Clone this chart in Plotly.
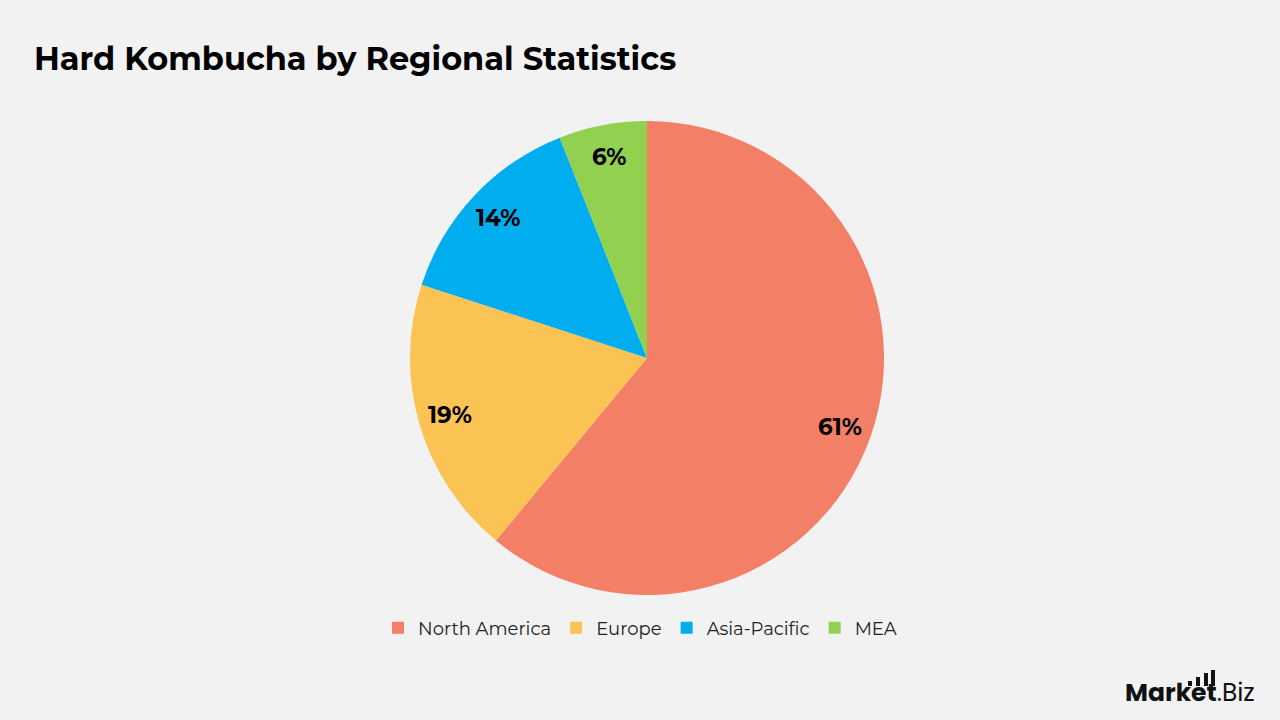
import math
import plotly.graph_objects as go

regions = ["North America", "Europe", "Asia-Pacific", "MEA"]
shares = [61, 19, 14, 6]
colors = ["#F37F67", "#FBC353", "#00AEEF", "#92D050"]

W, H = 1280, 720
cx, cy, r = 647, 358, 237
FONT = "Montserrat, Noto Sans, sans-serif"

fig = go.Figure(go.Pie(
    labels=regions,
    values=shares,
    marker=dict(colors=colors, line=dict(width=0)),
    sort=False,
    direction="clockwise",
    rotation=0,
    textinfo="none",
    domain=dict(x=[(cx - r) / W, (cx + r) / W], y=[1 - (cy + r) / H, 1 - (cy - r) / H]),
    hoverinfo="label+percent",
))

# percent labels placed at slice mid-angles
total = sum(shares)
acc = 0
for v in shares:
    mid = (acc + v / 2) / total * 2 * math.pi
    acc += v
    rr = 0.865 * r
    px = cx + rr * math.sin(mid)
    py = cy - rr * math.cos(mid)
    fig.add_annotation(x=px / W, y=1 - py / H, xref="paper", yref="paper",
                       showarrow=False, xanchor="center", yanchor="middle",
                       text=f"<b>{round(v / total * 100)}%</b>",
                       font=dict(family=FONT, size=23, color="#000000"))

fig.update_layout(
    width=W, height=H,
    paper_bgcolor="#F2F2F2", plot_bgcolor="#F2F2F2",
    margin=dict(l=0, r=0, t=0, b=0),
    title=dict(text="<b>Hard Kombucha by Regional Statistics</b>",
               x=34 / W, xanchor="left", y=1 - 59 / H, yanchor="middle",
               font=dict(family=FONT, size=32, color="#000000")),
    legend=dict(orientation="h", x=0.5, xanchor="center", y=1 - 628 / H, yanchor="middle",
                font=dict(family=FONT, size=18, color="#222222"),
                itemwidth=30, traceorder="normal", bgcolor="rgba(0,0,0,0)"),
    showlegend=True,
)

# logo
fig.add_annotation(x=1257 / W, y=1 - 692 / H, xref="paper", yref="paper",
                   xanchor="right", yanchor="middle", showarrow=False,
                   text="<b>Market</b>.Biz",
                   font=dict(family="Poppins, Montserrat, Noto Sans, sans-serif", size=25, color="#111111"))
for x0, top in [(1188, 681), (1196, 677), (1204, 673), (1211, 670)]:
    fig.add_shape(type="rect", xref="paper", yref="paper",
                  x0=x0 / W, x1=(x0 + 4) / W, y0=1 - 686 / H, y1=1 - top / H,
                  fillcolor="#111111", line=dict(width=0))

fig.write_html("out.html")
